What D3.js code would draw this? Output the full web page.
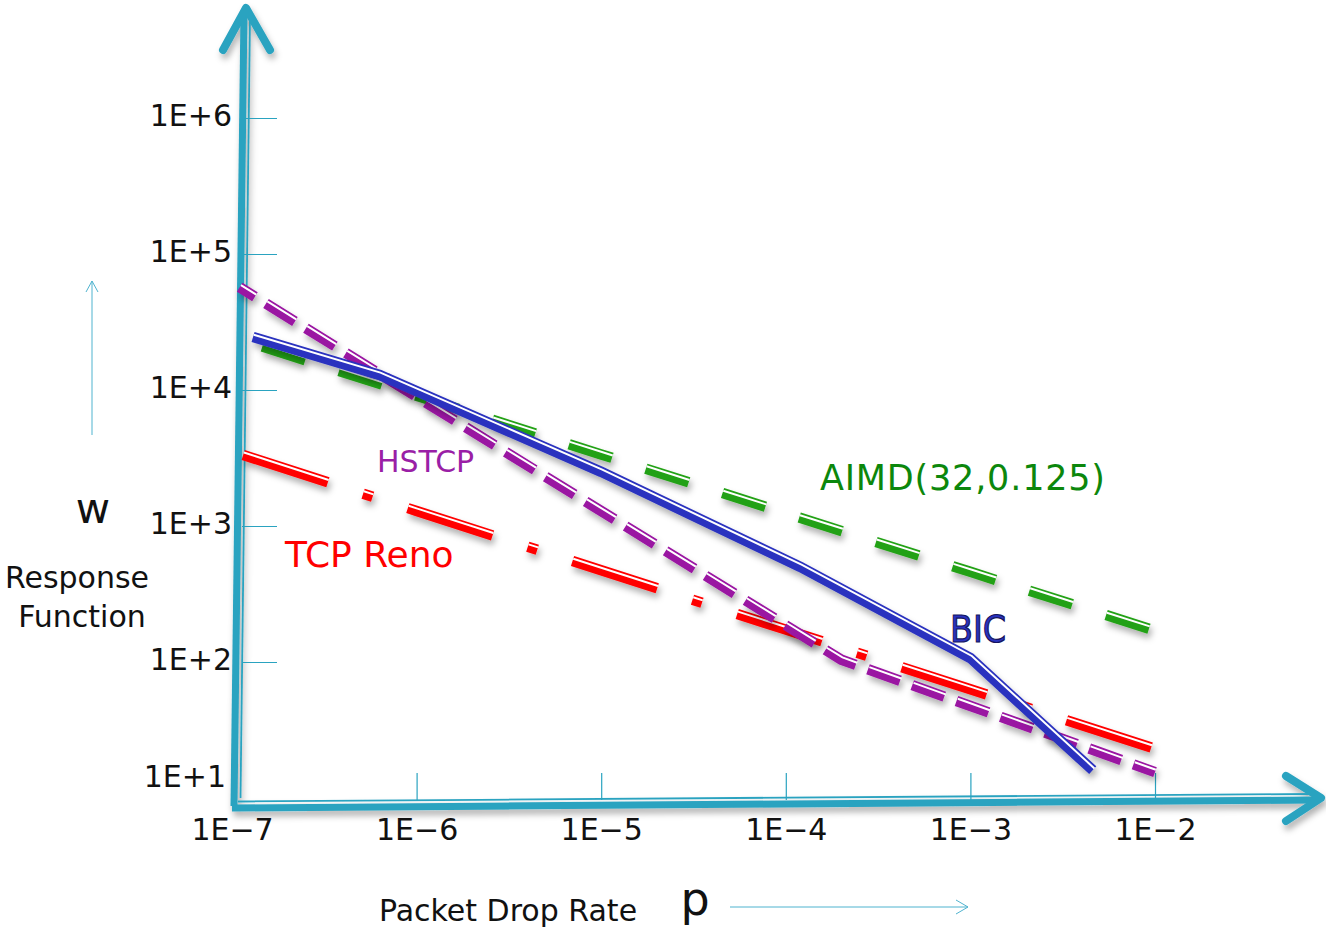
<!DOCTYPE html>
<html>
<head>
<meta charset="utf-8">
<script src="https://cdn.jsdelivr.net/npm/d3@7"></script>
<style>
  html, body { margin: 0; padding: 0; background: #fff; }
  svg { display: block; font-family: "DejaVu Sans", Verdana, sans-serif; }
</style>
</head>
<body>
<div id="viz"></div>
<script>
// values (p = packet drop rate, w = window)
const renoP = [1.15e-7, 1e-6, 1e-5, 1e-4, 1e-3, 1e-2];
const renoW = [3330, 1290, 472, 173, 63, 23];

const aimdP = [1.46e-7, 1e-6, 1e-5, 1e-4, 1e-3, 1e-2];
const aimdW = [20900, 9080, 3360, 1240, 460, 170];

const bicP = [1.3e-7, 6.3e-7, 1e-5, 1.2e-4, 1e-3, 4.6e-3];
const bicW = [24500, 12900, 2500, 500, 107, 16];

const hstcpP = [1.1e-7, 2e-4, 1e-2];
const hstcpW = [57000, 104, 15.5];

const xTicks = [1e-7, 1e-6, 1e-5, 1e-4, 1e-3, 1e-2];
const xTickLabels = ["1E\u22127", "1E\u22126", "1E\u22125", "1E\u22124", "1E\u22123", "1E\u22122"];
const yTicks = [10, 1e2, 1e3, 1e4, 1e5, 1e6];
const yTickLabels = ["1E+1", "1E+2", "1E+3", "1E+4", "1E+5", "1E+6"];

const width = 1326, height = 930;
const teal = "#2aa3c0";

const svg = d3.select("#viz").append("svg")
  .attr("width", width)
  .attr("height", height);

const defs = svg.append("defs");
defs.append("filter")
    .attr("id", "shadow")
    .attr("x", "-10%").attr("y", "-10%")
    .attr("width", "130%").attr("height", "140%")
  .append("feDropShadow")
    .attr("dx", 2).attr("dy", 5)
    .attr("stdDeviation", 3)
    .attr("flood-color", "#000")
    .attr("flood-opacity", 0.3);

const x = d3.scaleLog().domain([1e-7, 1e-2]).range([232, 1155]);
const y = d3.scaleLog().domain([10, 1e6]).range([798, 118]);

// shift a polyline sideways (negative = upper side)
function offsetPts(pts, d) {
  return pts.map((p, i) => {
    let nx = 0, ny = 0;
    [[pts[i - 1], p], [p, pts[i + 1]]].forEach(([a, b]) => {
      if (!a || !b) return;
      const dx = b[0] - a[0], dy = b[1] - a[1], L = Math.hypot(dx, dy);
      nx += -dy / L; ny += dx / L;
    });
    const L = Math.hypot(nx, ny);
    return [p[0] + nx / L * d, p[1] + ny / L * d];
  });
}

const line = d3.line();

// ---- axes ----
const axes = svg.append("g").attr("filter", "url(#shadow)");

// y axis arrow (thick + thin double line)
axes.append("path").attr("d", line([[234, 806], [244, 12]]))
  .attr("stroke", teal).attr("stroke-width", 7).attr("fill", "none");
axes.append("path").attr("d", line([[240.5, 798], [250, 16]]))
  .attr("stroke", teal).attr("stroke-width", 1.8).attr("fill", "none");
axes.append("path").attr("d", line([[223, 50], [246, 8], [270, 50]]))
  .attr("stroke", teal).attr("stroke-width", 8).attr("fill", "none")
  .attr("stroke-linecap", "round").attr("stroke-linejoin", "round");

// x axis arrow
axes.append("path").attr("d", line([[232, 808], [1318, 800]]))
  .attr("stroke", teal).attr("stroke-width", 7).attr("fill", "none");
axes.append("path").attr("d", line([[238, 801.5], [1312, 794]]))
  .attr("stroke", teal).attr("stroke-width", 1.8).attr("fill", "none");
axes.append("path").attr("d", line([[1286, 776], [1321, 798], [1286, 821]]))
  .attr("stroke", teal).attr("stroke-width", 8).attr("fill", "none")
  .attr("stroke-linecap", "round").attr("stroke-linejoin", "round");

// x tick marks (going up from the axis) and labels
svg.append("g")
  .attr("transform", "translate(0,800)")
  .call(d3.axisTop(x).tickValues(xTicks.slice(1)).tickSize(27).tickFormat(""))
  .call(g => g.select(".domain").remove())
  .call(g => g.selectAll("line").attr("stroke", teal).attr("stroke-width", 1.2));

svg.append("g")
  .attr("transform", "translate(0,808)")
  .call(d3.axisBottom(x).tickValues(xTicks).tickSize(0).tickPadding(11)
    .tickFormat((d, i) => xTickLabels[i]))
  .call(g => g.select(".domain").remove())
  .call(g => g.selectAll("text")
    .attr("font-family", "DejaVu Sans, sans-serif")
    .attr("font-size", 30).attr("fill", "#111"));

// y tick marks (to the right of the axis) and labels
svg.append("g")
  .attr("transform", "translate(242,0)")
  .call(d3.axisRight(y).tickValues(yTicks.slice(1)).tickSize(35).tickFormat(""))
  .call(g => g.select(".domain").remove())
  .call(g => g.selectAll("line").attr("stroke", teal).attr("stroke-width", 1.2));

svg.append("g")
  .attr("transform", "translate(234,0)")
  .call(d3.axisLeft(y).tickValues(yTicks).tickSize(0).tickPadding(2)
    .tickFormat((d, i) => yTickLabels[i]))
  .call(g => g.select(".domain").remove())
  .call(g => g.selectAll("text")
    .attr("font-family", "DejaVu Sans, sans-serif")
    .attr("font-size", 30).attr("fill", "#111").attr("dy", "0.25em"))
  .call(g => g.selectAll(".tick").filter(d => d === 10)
    .select("text").attr("dy", "-0.4em").attr("x", -8));

// ---- series ----
const series = [
  { name: "AIMD", p: aimdP, w: aimdW, color: "#22a114", dash: "45 35.5", offset: 0 },
  { name: "Reno", p: renoP, w: renoW, color: "#ff0000", dash: "89 37 10 37", offset: 0 },
  { name: "HSTCP", p: hstcpP, w: hstcpW, color: "#9a14a2", dash: "34 13", offset: 16 },
  { name: "BIC", p: bicP, w: bicW, color: "#2a32bf", dash: null, offset: 0 }
];

series.forEach(s => {
  const pts = s.p.map((p, i) => [x(p), y(s.w[i])]);
  const g = svg.append("g").attr("class", "series-" + s.name).attr("filter", "url(#shadow)");
  g.append("path")
    .attr("d", line(pts))
    .attr("fill", "none")
    .attr("stroke", s.color)
    .attr("stroke-width", 10.5)
    .attr("stroke-dasharray", s.dash)
    .attr("stroke-dashoffset", s.offset);
  g.append("path")
    .attr("d", line(offsetPts(pts, -2.5)))
    .attr("fill", "none")
    .attr("stroke", "#fff")
    .attr("stroke-width", 2)
    .attr("stroke-dasharray", s.dash)
    .attr("stroke-dashoffset", s.offset);
});

// ---- labels ----
const txt = (t, px, py, size, color, anchor = "start") =>
  svg.append("text").attr("x", px).attr("y", py)
    .attr("font-size", size).attr("fill", color)
    .attr("text-anchor", anchor).text(t);

txt("HSTCP", 377, 472, 30, "#9a1fa6");
txt("TCP Reno", 285, 567, 36, "#ff0000");
txt("AIMD(32,0.125)", 820, 490, 35, "#0c870c").attr("textLength", 285);
txt("BIC", 950, 642, 38, "#2a32bf")
  .attr("stroke", "#151560").attr("stroke-width", 1.2)
  .attr("textLength", 56).attr("lengthAdjust", "spacingAndGlyphs");

txt("w", 93, 523, 42, "#111", "middle");
txt("Response", 77, 588, 30, "#111", "middle");
txt("Function", 82, 627, 30, "#111", "middle");
txt("Packet Drop Rate", 508, 921, 30, "#111", "middle");
txt("p", 695, 915, 46, "#111", "middle");

// small hint arrows
const hint = svg.append("g").attr("stroke", "#4fb3cf").attr("stroke-width", 1).attr("fill", "none");
hint.append("path").attr("d", line([[92, 435], [92, 281]]));
hint.append("path").attr("d", line([[86, 292], [92, 281], [98, 292]]));
hint.append("path").attr("d", line([[730, 907], [968, 907]]));
hint.append("path").attr("d", line([[956, 900], [968, 907], [956, 914]]));
</script>
</body>
</html>
